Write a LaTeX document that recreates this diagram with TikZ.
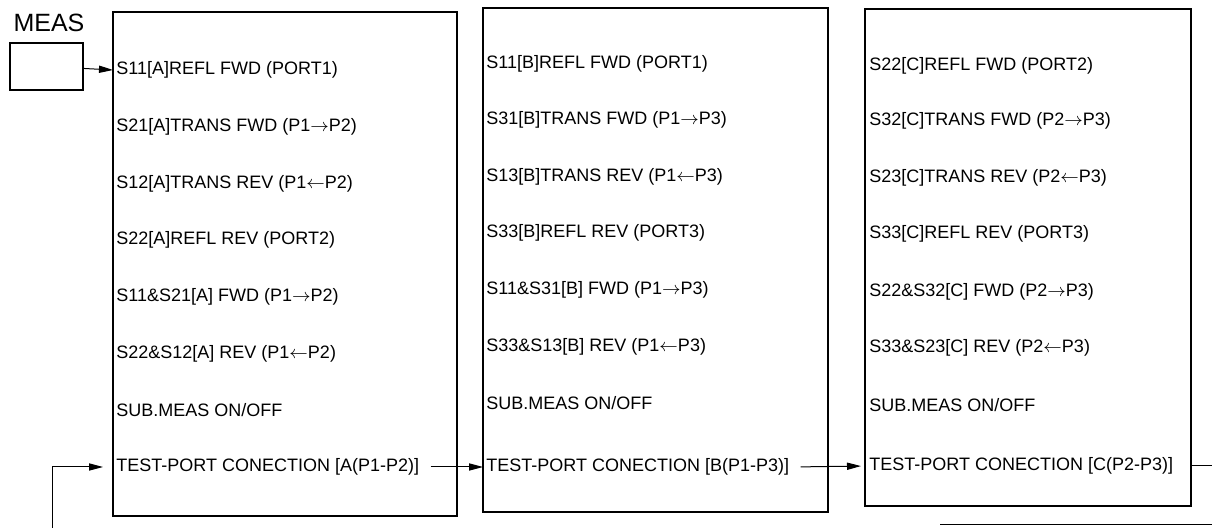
\documentclass[tikz,border=0pt]{standalone}
\usepackage{fontspec}
\setmainfont{Liberation Sans}
\usepackage{tikz}
\usetikzlibrary{arrows.meta,positioning,calc}

\begin{document}
\begin{tikzpicture}[
    x=0.5pt, y=-0.5pt,
    panel/.style={draw=black, line width=0.8pt, minimum width=172pt, minimum height=252pt, inner sep=0pt},
    measbox/.style={draw=black, line width=0.7pt, minimum width=36.5pt, minimum height=23.5pt, inner sep=0pt},
    item/.style={anchor=west, inner sep=1.5pt, font=\fontsize{9}{10}\selectfont},
    arrow/.style={-{Triangle[length=7pt, width=3.6pt]}, line width=0.5pt, draw=black},
    wire/.style={line width=0.5pt, draw=black}
]
    \useasboundingbox (0,0) rectangle (1212,528);

    % MEAS key
    \node[font=\fontsize{12.5}{14}\selectfont, inner sep=0pt] (meas) at (49,23) {MEAS};
    \node[measbox] (key) at (46.5,66.5) {};

    % Panels
    \node[panel] (boxA) at (285,264) {};
    \node[panel, minimum width=172.5pt] (boxB) at (655.5,260) {};
    \node[panel, minimum width=163pt, minimum height=248.5pt] (boxC) at (1028,257.5) {};

    % Panel A
    \node[item] (a1) at (113,70) {S11[A]REFL FWD (PORT1)};
    \node[item] (a2) at (113,127) {S21[A]TRANS FWD (P1$\rightarrow$P2)};
    \node[item] (a3) at (113,184) {S12[A]TRANS REV (P1$\leftarrow$P2)};
    \node[item] (a4) at (113,240) {S22[A]REFL REV (PORT2)};
    \node[item] (a5) at (113,297) {S11\&S21[A] FWD (P1$\rightarrow$P2)};
    \node[item] (a6) at (113,354) {S22\&S12[A] REV (P1$\leftarrow$P2)};
    \node[item] (a7) at (113,410) {SUB.MEAS ON/OFF};
    \node[item] (a8) at (113,467) {TEST-PORT CONECTION [A(P1-P2)]};

    % Panel B
    \node[item] (b1) at (483,64) {S11[B]REFL FWD (PORT1)};
    \node[item] (b2) at (483,120) {S31[B]TRANS FWD (P1$\rightarrow$P3)};
    \node[item] (b3) at (483,177) {S13[B]TRANS REV (P1$\leftarrow$P3)};
    \node[item] (b4) at (483,233) {S33[B]REFL REV (PORT3)};
    \node[item] (b5) at (483,290) {S11\&S31[B] FWD (P1$\rightarrow$P3)};
    \node[item] (b6) at (483,347) {S33\&S13[B] REV (P1$\leftarrow$P3)};
    \node[item] (b7) at (483,403) {SUB.MEAS ON/OFF};
    \node[item] (b8) at (483,467) {TEST-PORT CONECTION [B(P1-P3)]};

    % Panel C
    \node[item] (c1) at (866,66) {S22[C]REFL FWD (PORT2)};
    \node[item] (c2) at (866,121) {S32[C]TRANS FWD (P2$\rightarrow$P3)};
    \node[item] (c3) at (866,178) {S23[C]TRANS REV (P2$\leftarrow$P3)};
    \node[item] (c4) at (866,234) {S33[C]REFL REV (PORT3)};
    \node[item] (c5) at (866,292) {S22\&S32[C] FWD (P2$\rightarrow$P3)};
    \node[item] (c6) at (866,348) {S33\&S23[C] REV (P2$\leftarrow$P3)};
    \node[item] (c7) at (866,405) {SUB.MEAS ON/OFF};
    \node[item] (c8) at (866,466) {TEST-PORT CONECTION [C(P2-P3)]};

    % Loop ends (cut by the frame)
    \coordinate (outR) at (1212,466);
    \coordinate (retR) at (1212,525);
    \coordinate (retM) at (940,525);
    \coordinate (retL) at (52,528);

    % Connectors
    \draw[arrow] (key) -- (a1.west);
    \draw[arrow, shorten <=4pt] (a8.east) -- (b8.west);
    \draw[arrow, shorten <=4pt, shorten >=2.5pt] (b8.east) -- (c8.west);
    \draw[wire] (boxC.east |- c8) -- (outR);
    \draw[wire] (retM) -- (retR);
    \draw[arrow, shorten >=5pt] (retL) |- (a8.west);

\end{tikzpicture}
\end{document}
